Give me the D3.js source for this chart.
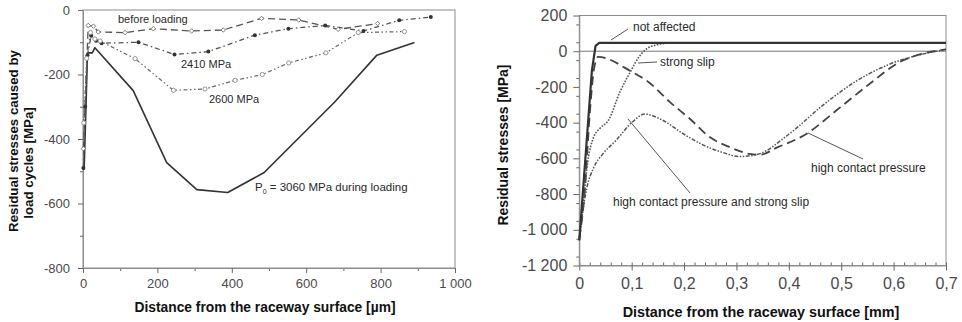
<!DOCTYPE html>
<html>
<head>
<meta charset="utf-8">
<script src="https://cdn.jsdelivr.net/npm/d3@7"></script>
<style>
  body { margin: 0; background: #fff; }
  svg { display: block; font-family: "Liberation Sans", Arial, sans-serif; }
</style>
</head>
<body>
<svg id="chart" width="962" height="322"></svg>
<script>
// left panel: distance in µm, stress in MPa
const beforeLoading = [[1, -430], [14, -48], [28, -50], [41, -68], [113, -70], [189, -58], [292, -65], [377, -62], [480, -26], [580, -31], [686, -60], [792, -42]];
const load2410 = [[1, -490], [6, -300], [12, -140], [22, -80], [35, -95], [50, -103], [149, -100], [246, -138], [337, -129], [462, -78], [552, -58], [651, -48], [754, -65], [850, -32], [935, -22]];
const load2600 = [[2, -350], [10, -150], [20, -70], [32, -90], [46, -96], [140, -151], [243, -249], [328, -245], [409, -218], [482, -200], [553, -164], [653, -133], [740, -70], [864, -67]];
const load3060 = [[3, -495], [8, -300], [12, -133], [25, -133], [32, -117], [135, -250], [225, -473], [306, -557], [389, -566], [487, -504], [676, -286], [790, -140], [891, -101]];
const leftXTicks = [0, 200, 400, 600, 800, 1000];
const leftYTicks = [0, -200, -400, -600, -800];

// right panel: distance in mm, stress in MPa
const notAffected = [[0, -1060], [0.024, -110], [0.031, 30], [0.038, 47], [0.7, 47]];
const strongSlip = [[0, -1055], [0.008, -840], [0.016, -620], [0.027, -485], [0.04, -430], [0.055, -390], [0.078, -225], [0.097, -118], [0.113, -35], [0.125, 5], [0.148, 36], [0.167, 45], [0.18, 47]];
const highPressure = [[0, -1050], [0.01, -800], [0.02, -350], [0.028, -100], [0.036, -32], [0.1, -115], [0.132, -172], [0.173, -285], [0.211, -378], [0.249, -481], [0.287, -537], [0.325, -575], [0.345, -580], [0.377, -540], [0.434, -462], [0.491, -331], [0.555, -181], [0.612, -60], [0.657, -13], [0.7, 10]];
const highPressureSlip = [[0, -1050], [0.005, -930], [0.014, -770], [0.027, -655], [0.045, -575], [0.07, -500], [0.1, -400], [0.125, -352], [0.16, -388], [0.2, -465], [0.24, -530], [0.275, -568], [0.305, -590], [0.34, -578], [0.4, -465], [0.466, -300], [0.53, -165], [0.593, -72], [0.657, -15], [0.7, 10]];
const rightXTicks = [0, 0.1, 0.2, 0.3, 0.4, 0.5, 0.6, 0.7];
const rightYTicks = [200, 0, -200, -400, -600, -800, -1000, -1200];

const locale = d3.formatLocale({ decimal: ",", thousands: " ", grouping: [3], currency: ["", ""], minus: "-" });
const fmtInt = locale.format(",d");
const fmtDec = d => d === 0 ? "0" : locale.format(".1f")(d);

const svg = d3.select("#chart");
const lineColor = "#3c3c3c";
const frameColor = "#8c8c8c";
const tickText = "#4a4a4a";

function drawFrame(x, y) {
  const [x0, x1] = x.range(), [y1, y0] = y.range();
  svg.append("rect")
    .attr("x", x0).attr("y", y0)
    .attr("width", x1 - x0).attr("height", y1 - y0)
    .attr("fill", "none").attr("stroke", frameColor).attr("stroke-width", 1);
}

function styleAxis(g, size) {
  g.select(".domain").attr("stroke", frameColor);
  g.selectAll(".tick line").attr("stroke", "#666");
  g.selectAll(".tick text")
    .attr("fill", tickText)
    .style("font-size", size + "px")
    .style("font-family", "Liberation Sans, Arial, sans-serif");
}

function drawLine(data, x, y, dash, width, color) {
  svg.append("path")
    .datum(data)
    .attr("fill", "none")
    .attr("stroke", color || lineColor)
    .attr("stroke-width", width)
    .attr("stroke-dasharray", dash)
    .attr("stroke-linejoin", "round")
    .attr("d", d3.line().x(d => x(d[0])).y(d => y(d[1])));
}

function drawSmooth(data, x, y, dash, width, color) {
  svg.append("path")
    .datum(data)
    .attr("fill", "none")
    .attr("stroke", color || lineColor)
    .attr("stroke-width", width)
    .attr("stroke-dasharray", dash)
    .attr("d", d3.line().curve(d3.curveMonotoneX).x(d => x(d[0])).y(d => y(d[1])));
}

function label(txt, px, py, size, opts) {
  opts = opts || {};
  const t = svg.append("text")
    .attr("x", px).attr("y", py)
    .attr("fill", opts.fill || "#2a2a2a")
    .attr("text-anchor", opts.anchor || "start")
    .style("font-size", size + "px")
    .style("font-weight", opts.bold ? "bold" : "normal");
  if (opts.rotate) t.attr("transform", "rotate(-90," + px + "," + py + ")");
  t.text(txt);
  return t;
}

function leader(x1, y1, x2, y2) {
  svg.append("line")
    .attr("x1", x1).attr("y1", y1).attr("x2", x2).attr("y2", y2)
    .attr("stroke", "#555").attr("stroke-width", 1);
}

// ---------- left panel ----------
const xL = d3.scaleLinear().domain([0, 1000]).range([83, 455]);
const yL = d3.scaleLinear().domain([-800, 0]).range([268, 10]);

drawFrame(xL, yL);

svg.append("g").attr("transform", "translate(0," + yL(-800) + ")")
  .call(d3.axisBottom(xL).tickValues(d3.range(100, 1000, 200)).tickSize(3).tickFormat(""))
  .call(g => g.select(".domain").remove())
  .call(g => g.selectAll("line").attr("stroke", "#666"));
svg.append("g").attr("transform", "translate(0," + yL(-800) + ")")
  .call(d3.axisBottom(xL).tickValues(leftXTicks).tickSize(5).tickSizeOuter(0).tickPadding(6).tickFormat(fmtInt))
  .call(g => styleAxis(g, 13));

svg.append("g").attr("transform", "translate(" + xL(0) + ",0)")
  .call(d3.axisLeft(yL).tickValues(d3.range(-700, 0, 200)).tickSize(3).tickFormat(""))
  .call(g => g.select(".domain").remove())
  .call(g => g.selectAll("line").attr("stroke", "#666"));
svg.append("g").attr("transform", "translate(" + xL(0) + ",0)")
  .call(d3.axisLeft(yL).tickValues(leftYTicks).tickSize(5).tickSizeOuter(0).tickPadding(8).tickFormat(fmtInt))
  .call(g => styleAxis(g, 13));

drawLine(load3060, xL, yL, null, 1.6, "#333");
drawLine(beforeLoading, xL, yL, "7,4", 1.3, "#555");
drawLine(load2410, xL, yL, "5,3,1.5,3", 1.3, "#555");
drawLine(load2600, xL, yL, "4,2.5,1.5,2.5,1.5,2.5", 1.2, "#666");

// markers
svg.append("g").selectAll("path").data(beforeLoading).enter().append("path")
  .attr("d", d3.symbol(d3.symbolSquare, 10))
  .attr("transform", d => "translate(" + xL(d[0]) + "," + yL(d[1]) + ") rotate(45)")
  .attr("fill", "#fff").attr("stroke", "#777").attr("stroke-width", 0.9);
svg.append("g").selectAll("circle").data(load2410).enter().append("circle")
  .attr("cx", d => xL(d[0])).attr("cy", d => yL(d[1]))
  .attr("r", 2).attr("fill", "#333");
svg.append("g").selectAll("circle").data(load2600).enter().append("circle")
  .attr("cx", d => xL(d[0])).attr("cy", d => yL(d[1]))
  .attr("r", 2.1).attr("fill", "#fff").attr("stroke", "#888").attr("stroke-width", 0.9);

label("before loading", 118, 23, 11);
label("2410 MPa", 181, 68, 11);
label("2600 MPa", 209, 103, 11);
const p0 = label("P", 255, 191, 11.5);
p0.append("tspan").attr("dy", 3).style("font-size", "7px").text("0");
p0.append("tspan").attr("dy", -3).text("  = 3060 MPa during loading");

label("Distance from the raceway surface [µm]", 265, 312, 13.8, { bold: true, anchor: "middle", fill: "#111" });
label("Residual stresses caused by", 18, 141, 13.3, { bold: true, anchor: "middle", fill: "#111", rotate: true });
label("load cycles [MPa]", 33, 163, 13.3, { bold: true, anchor: "middle", fill: "#111", rotate: true });

// ---------- right panel ----------
const xR = d3.scaleLinear().domain([0, 0.7]).range([579.3, 946]);
const yR = d3.scaleLinear().domain([-1200, 200]).range([265.5, 15.5]);

drawFrame(xR, yR);

svg.append("line")
  .attr("x1", xR(0)).attr("x2", xR(0.7))
  .attr("y1", yR(0)).attr("y2", yR(0))
  .attr("stroke", "#777").attr("stroke-width", 1);

svg.append("g").attr("transform", "translate(0," + yR(-1200) + ")")
  .call(d3.axisBottom(xR).tickValues(d3.range(0, 71, 2).map(v => v / 100)).tickSize(-3).tickFormat(""))
  .call(g => g.select(".domain").remove())
  .call(g => g.selectAll("line").attr("stroke", "#666"));
svg.append("g").attr("transform", "translate(0," + yR(-1200) + ")")
  .call(d3.axisBottom(xR).tickValues(rightXTicks).tickSize(5).tickSizeOuter(0).tickPadding(7).tickFormat(fmtDec))
  .call(g => styleAxis(g, 16));

svg.append("g").attr("transform", "translate(" + xR(0) + ",0)")
  .call(d3.axisLeft(yR).tickValues(d3.range(-1150, 200, 100)).tickSize(3).tickFormat(""))
  .call(g => g.select(".domain").remove())
  .call(g => g.selectAll("line").attr("stroke", "#666"));
svg.append("g").attr("transform", "translate(" + xR(0) + ",0)")
  .call(d3.axisLeft(yR).tickValues(rightYTicks).tickSize(6).tickSizeOuter(0).tickPadding(6).tickFormat(fmtInt))
  .call(g => styleAxis(g, 16));

drawSmooth(highPressureSlip, xR, yR, "1.5,1.5,1.5,1.5,4,1.5", 1.5, "#555");
drawSmooth(highPressure, xR, yR, "9,5", 1.8, "#444");
drawSmooth(strongSlip, xR, yR, "1.6,1.4", 1.6, "#555");
drawLine(notAffected, xR, yR, null, 2.2, "#333");

label("not affected", 633, 31, 12);
leader(628, 29, 611, 40);
label("strong slip", 660, 66, 12);
leader(657, 62, 638, 63);
label("high contact pressure", 811, 172, 12);
leader(863, 159, 808, 133);
label("high contact pressure and strong slip", 613, 206, 12);
leader(690, 193, 628, 119);

label("Distance from the raceway surface [mm]", 761, 317, 14.4, { bold: true, anchor: "middle", fill: "#111" });
label("Residual stresses [MPa]", 508, 145, 14, { bold: true, anchor: "middle", fill: "#111", rotate: true });
</script>
</body>
</html>
